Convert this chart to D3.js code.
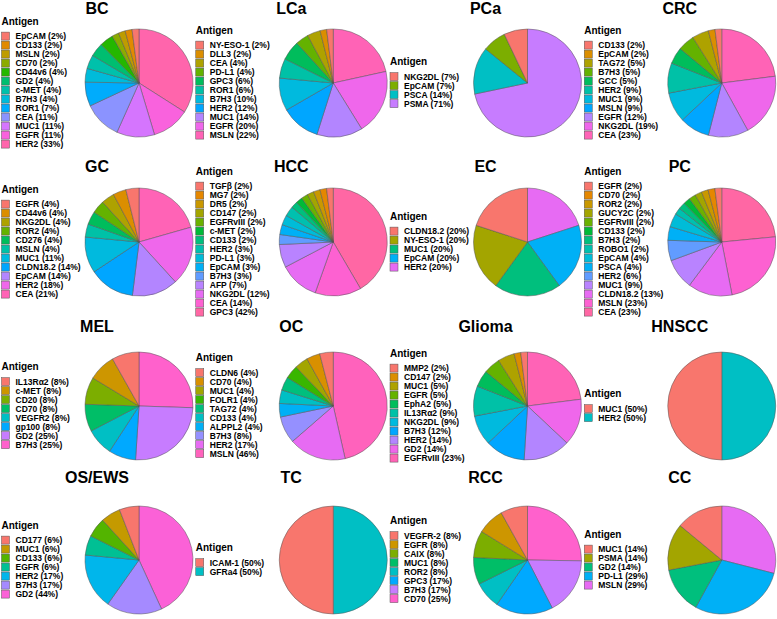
<!DOCTYPE html>
<html><head><meta charset="utf-8">
<script src="https://cdn.jsdelivr.net/npm/d3@7"></script>
<style>body{margin:0;background:#fff}svg{display:block}text{font-family:"Liberation Sans",Arial,sans-serif;font-weight:bold;fill:#000}</style>
</head><body>
<script>
// ---- data ----
const panelTitles = ["BC","LCa","PCa","CRC","GC","HCC","EC","PC","MEL","OC","Glioma","HNSCC","OS/EWS","TC","RCC","CC"];
const antigensBC = ["EpCAM","CD133","MSLN","CD70","CD44v6","GD2","c-MET","B7H3","ROR1","CEA","MUC1","EGFR","HER2"];
const valuesBC = [2,2,2,2,4,4,4,4,7,11,11,11,33];
const antigensLCa = ["NY-ESO-1","DLL3","CEA","PD-L1","GPC3","ROR1","B7H3","HER2","MUC1","EGFR","MSLN"];
const valuesLCa = [2,2,4,4,6,6,10,12,14,20,22];
const antigensPCa = ["NKG2DL","EpCAM","PSCA","PSMA"];
const valuesPCa = [7,7,14,71];
const antigensCRC = ["CD133","EpCAM","TAG72","B7H3","GCC","HER2","MUC1","MSLN","EGFR","NKG2DL","CEA"];
const valuesCRC = [2,2,5,5,5,9,9,9,12,19,23];
const antigensGC = ["EGFR","CD44v6","NKG2DL","ROR2","CD276","MSLN","MUC1","CLDN18.2","EpCAM","HER2","CEA"];
const valuesGC = [4,4,4,4,4,4,11,14,14,18,21];
const antigensHCC = ["TGFβ","MG7","DR5","CD147","EGFRvIII","c-MET","CD133","HER2","PD-L1","EpCAM","B7H3","AFP","NKG2DL","CEA","GPC3"];
const valuesHCC = [2,2,2,2,2,2,2,3,3,3,3,7,12,14,42];
const antigensEC = ["CLDN18.2","NY-ESO-1","MUC1","EpCAM","HER2"];
const valuesEC = [20,20,20,20,20];
const antigensPC = ["EGFR","CD70","ROR2","GUCY2C","EGFRvIII","CD133","B7H3","ROBO1","EpCAM","PSCA","HER2","MUC1","CLDN18.2","MSLN","CEA"];
const valuesPC = [2,2,2,2,2,2,2,2,4,4,6,9,13,23,23];
const antigensMEL = ["IL13Rα2","c-MET","CD20","CD70","VEGFR2","gp100","GD2","B7H3"];
const valuesMEL = [8,8,8,8,8,8,25,25];
const antigensOC = ["CLDN6","CD70","MUC1","FOLR1","TAG72","CD133","ALPPL2","B7H3","HER2","MSLN"];
const valuesOC = [4,4,4,4,4,4,4,8,17,46];
const antigensGlioma = ["MMP2","CD147","MUC1","EGFR","EphA2","IL13Rα2","NKG2DL","B7H3","HER2","GD2","EGFRvIII"];
const valuesGlioma = [2,2,5,5,5,9,9,12,14,14,23];
const antigensHNSCC = ["MUC1","HER2"];
const valuesHNSCC = [50,50];
const antigensOS = ["CD177","MUC1","CD133","EGFR","HER2","B7H3","GD2"];
const valuesOS = [6,6,6,6,17,17,44];
const antigensTC = ["ICAM-1","GFRa4"];
const valuesTC = [50,50];
const antigensRCC = ["VEGFR-2","EGFR","CAIX","MUC1","ROR2","GPC3","B7H3","CD70"];
const valuesRCC = [8,8,8,8,8,17,17,25];
const antigensCC = ["MUC1","PSMA","GD2","PD-L1","MSLN"];
const valuesCC = [14,14,14,29,29];
const legendTitle = "Antigen";

const panels = [
  [antigensBC,valuesBC],[antigensLCa,valuesLCa],[antigensPCa,valuesPCa],[antigensCRC,valuesCRC],
  [antigensGC,valuesGC],[antigensHCC,valuesHCC],[antigensEC,valuesEC],[antigensPC,valuesPC],
  [antigensMEL,valuesMEL],[antigensOC,valuesOC],[antigensGlioma,valuesGlioma],[antigensHNSCC,valuesHNSCC],
  [antigensOS,valuesOS],[antigensTC,valuesTC],[antigensRCC,valuesRCC],[antigensCC,valuesCC]
].map((p,i)=>({title:panelTitles[i],items:p[0].map((a,j)=>({name:a,v:p[1][j]}))}));

// ---- ggplot-like hue palette (polar LUV) ----
function hclLuv(h,c,l){
  const hr=h*Math.PI/180, U=c*Math.cos(hr), V=c*Math.sin(hr);
  const Xn=95.047,Yn=100,Zn=108.883;
  const Y = l>8 ? Yn*Math.pow((l+16)/116,3) : Yn*l/903.3;
  const den=Xn+15*Yn+3*Zn, un=4*Xn/den, vn=9*Yn/den;
  const u=U/(13*l)+un, v=V/(13*l)+vn;
  const X=Y*9*u/(4*v), Z=Y*(12-3*u-20*v)/(4*v);
  const x=X/100,y=Y/100,z=Z/100;
  let r=3.2404542*x-1.5371385*y-0.4985314*z;
  let g=-0.9692660*x+1.8760108*y+0.0415560*z;
  let b=0.0556434*x-0.2040259*y+1.0572252*z;
  const gm=t=>{t=t<=0.0031308?12.92*t:1.055*Math.pow(t,1/2.4)-0.055;return Math.round(Math.max(0,Math.min(1,t))*255);};
  return d3.rgb(gm(r),gm(g),gm(b)).formatHex();
}
function huePal(n){return d3.range(n).map(i=>hclLuv(15+360*i/n,100,65));}

// ---- layout ----
const W=777,H=619,colW=W/4,R=54;
const rowPieCY=[83,242,406,560];
const rowTitleY=[13.5,171.5,331.5,483];
const svg=d3.select("body").append("svg").attr("width",W).attr("height",H);

panels.forEach((p,i)=>{
  const col=i%4,row=Math.floor(i/4);
  const x0=col*colW, cy=rowPieCY[row], cx=x0+139;
  const g=svg.append("g");
  const cols=huePal(p.items.length);
  const color=d3.scaleOrdinal().domain(p.items.map(d=>d.name)).range(cols);
  g.append("text").attr("x",x0+97).attr("y",rowTitleY[row]).attr("text-anchor","middle")
   .style("font-size","16px").text(p.title);
  const pie=d3.pie().sort(null).value(d=>d.v);
  const arc=d3.arc().innerRadius(0).outerRadius(R);
  g.append("g").attr("transform",`translate(${cx},${cy})`).selectAll("path")
   .data(pie(p.items.slice().reverse())).join("path")
   .attr("d",arc).attr("fill",d=>color(d.data.name)).attr("stroke","#555").attr("stroke-width",0.5);
  // legend
  const n=p.items.length, total=14.2+n*9, top=cy-total/2;
  const lg=g.append("g");
  lg.append("text").attr("x",x0+1.5).attr("y",top+7.3).style("font-size","10px").text(legendTitle);
  const it=lg.selectAll("g").data(p.items).join("g")
    .attr("transform",(d,j)=>`translate(${x0+1.5},${top+14.2+j*9+0.5})`);
  it.append("rect").attr("width",8).attr("height",8).attr("fill",d=>color(d.name))
    .attr("stroke","#555").attr("stroke-width",0.5);
  it.append("text").attr("x",14).attr("y",7).style("font-size","8.5px").text(d=>`${d.name} (${d.v}%)`);
});
</script>
</body></html>
